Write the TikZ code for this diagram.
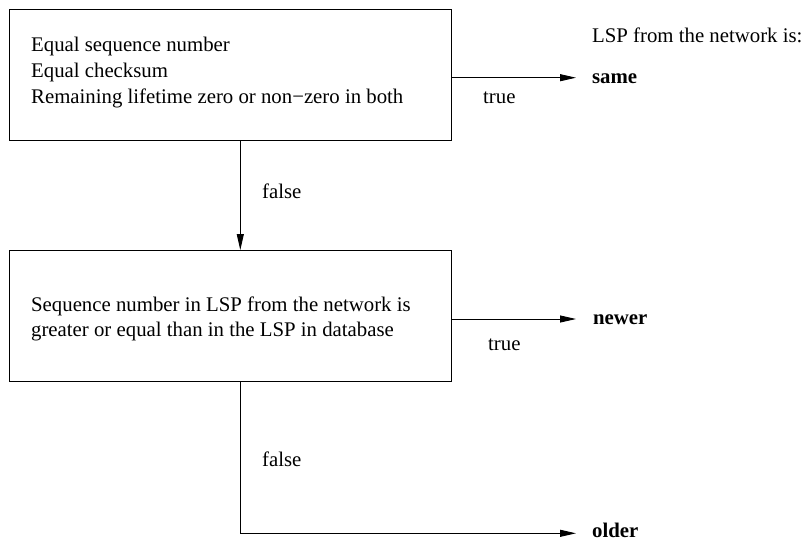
\documentclass[tikz,border=0pt]{standalone}
\usepackage{fontspec}
\setmainfont{Liberation Serif}
\usetikzlibrary{arrows.meta}
\begin{document}
\begin{tikzpicture}[x=1pt,y=-1pt,
  line width=0.9pt,
  every node/.style={font=\fontsize{20.8}{25.8}\selectfont, inner sep=0pt},
  testbox/.style={draw, rectangle, minimum width=442pt, minimum height=131pt},
  txt/.style={anchor=base west},
  result/.style={anchor=base west, font=\fontsize{20.8}{25.8}\selectfont\bfseries},
  arr/.style={-{Triangle[length=16pt,width=7pt]}}]
  \useasboundingbox (0,0) rectangle (806,544);

  % decision boxes
  \node[testbox] (c1) at (230,74.7) {};
  \node[testbox] (c2) at (230,316) {};

  % conditions
  \node[txt] (c1a) at (30.7,51.7) {Equal sequence number};
  \node[txt] (c1b) at (30.7,77.3) {Equal checksum};
  \node[txt] (c1c) at (30.7,103.3) {Remaining lifetime zero or non\textminus zero in both};
  \node[txt] (c2a) at (30.7,311.7) {Sequence number in LSP from the network is};
  \node[txt] (c2b) at (30.7,336.7) {greater or equal than in the LSP in database};

  % outcomes
  \node[txt] (head) at (591.7,42.7) {LSP from the network is:};
  \node[result] (same) at (591.7,83.3) {same};
  \node[result] (newer) at (592.7,324) {newer};
  \node[result] (older) at (591.7,537.7) {older};

  % arrow tips and the column of the false branch
  \coordinate (tS) at (576,77.7);
  \coordinate (tN) at (576,319);
  \coordinate (tO) at (576,533.3);
  \coordinate (v) at (240.3,0);

  % connectors
  \draw[arr] (c1.east |- tS) -- (tS);
  \draw[arr] (c2.east |- tN) -- (tN);
  \draw[arr] (c1.south -| v) -- (c2.north -| v);
  \draw[arr] (c2.south -| v) |- (tO);

  % branch labels
  \node[txt] (t1) at (482.7,103.3) {true};
  \node[txt] (t2) at (487.7,350) {true};
  \node[txt] (f1) at (261.7,198.3) {false};
  \node[txt] (f2) at (261.7,466.7) {false};
\end{tikzpicture}
\end{document}
